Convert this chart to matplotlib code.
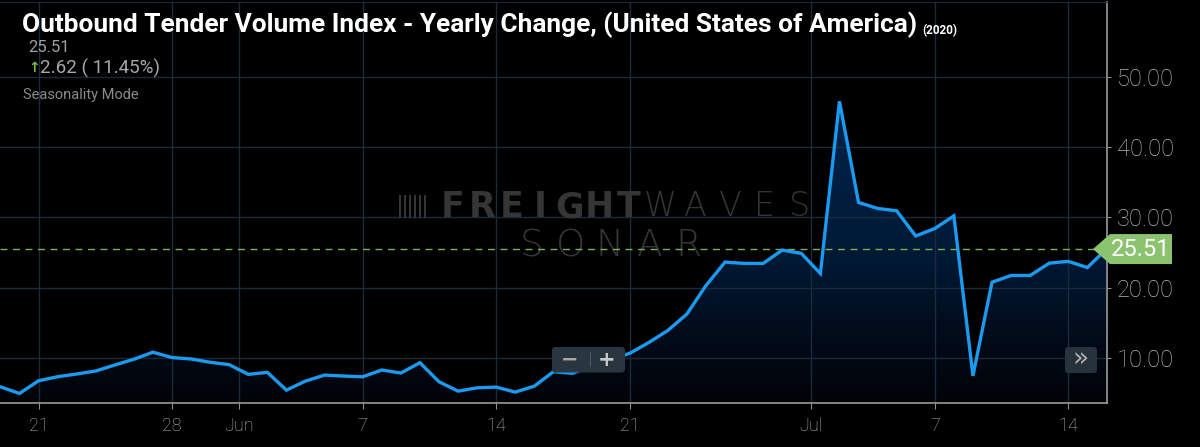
import numpy as np
import matplotlib
matplotlib.use('Agg')
import matplotlib.pyplot as plt
import matplotlib.dates as mdates
from matplotlib.colors import LinearSegmentedColormap
from matplotlib.patches import FancyBboxPatch, Polygon, Rectangle
from matplotlib.transforms import IdentityTransform

# daily values, 2020-05-19 .. 2020-07-16
start_date = '2020-05-19'
end_date = '2020-07-16'
values = [5.94, 5.00, 6.80, 7.37, 7.76, 8.19, 9.04, 9.86, 10.86, 10.10,
          9.90, 9.43, 9.09, 7.71, 8.00, 5.47, 6.76, 7.61, 7.47, 7.37,
          8.33, 7.90, 9.37, 6.66, 5.33, 5.80, 5.90, 5.19, 6.04, 8.09,
          7.86, 8.90, 9.80, 10.70, 12.23, 13.95, 16.28, 20.33, 23.66, 23.47,
          23.47, 25.37, 24.90, 22.04, 46.50, 32.14, 31.28, 30.95, 27.37, 28.43,
          30.23, 7.50, 20.80, 21.76, 21.76, 23.51, 23.76, 22.89, 25.51]

tick_dates = ['2020-05-21', '2020-05-28', '2020-05-31T12', '2020-06-07', '2020-06-14',
              '2020-06-21', '2020-06-30T12', '2020-07-07', '2020-07-14']
tick_labels = ['21', '28', 'Jun', '7', '14', '21', 'Jul', '7', '14']
y_ticks = [10, 20, 30, 40, 50]

title = 'Outbound Tender Volume Index - Yearly Change, (United States of America)'
title_year = '(2020)'
last_value = 25.51
change = 2.62
change_pct = 11.45

W, H = 1200, 447
plt.rcParams['font.family'] = ['Roboto', 'DejaVu Sans']

fig = plt.figure(figsize=(W / 100, H / 100), dpi=100, facecolor='black')
ax = fig.add_axes([0, 1 - 403.3 / H, 1107 / W, (403.3 - 1.7) / H])
ax.set_facecolor('black')

dates = np.arange(np.datetime64(start_date), np.datetime64(end_date) + 1)
x = mdates.date2num(dates)
y = np.array(values)

ymin, ymax = 3.6, 60.65

# gradient area under the line
cmap = LinearSegmentedColormap.from_list(
    'fill', [(0, '#010307'), (0.2, '#020b1a'), (0.46, '#001a36'), (1, '#002550')])
grad = np.linspace(0, 1, 256).reshape(-1, 1)
im = ax.imshow(grad, cmap=cmap, origin='lower', aspect='auto',
               extent=(x[0] - 1, x[-1] + 1, ymin, 50), zorder=0.2)
area = ax.fill_between(x, y, ymin, facecolor='none', edgecolor='none')
im.set_clip_path(area.get_paths()[0], transform=ax.transData)
ax.set_xlim(x[0] - 0.02, x[-1] + 0.03)
ax.set_ylim(ymin, ymax)

ax.plot(x, y, color='#1a9bf0', lw=2.4, zorder=4, solid_joinstyle='miter')
ax.axhline(last_value, color='#7cb052', lw=1, ls=(0, (5, 4)), zorder=3)

# grid and axes
ax.set_xticks(mdates.date2num(np.array(tick_dates, dtype='datetime64[m]')))
ax.set_xticklabels(tick_labels)
ax.set_yticks(y_ticks)
ax.yaxis.tick_right()
ax.yaxis.set_major_formatter('{x:.2f}')
ax.set_axisbelow(True)
ax.grid(True, color='#1c2b3b', lw=1)
ax.tick_params(axis='x', colors='#8f8f8f', labelcolor='#b4b4b4', labelsize=13,
               length=4, pad=6)
ax.tick_params(axis='y', colors='#8f8f8f', labelcolor='#b4b4b4', labelsize=17,
               length=3, pad=4)
for lab in ax.get_xticklabels() + ax.get_yticklabels():
    lab.set_fontweight('light')
for side in ['bottom', 'right']:
    ax.spines[side].set_color('#9a9a9a')
    ax.spines[side].set_linewidth(1.2)
ax.spines['top'].set_color('#1c2b3b')
ax.spines['left'].set_visible(False)

# watermark
wm = '#353535'


def spaced(text, x0, x1, ypx, **kw):
    slot = (x1 - x0) / len(text)
    for i, ch in enumerate(text):
        ax.text((x0 + slot * (i + 0.5)) / W, 1 - ypx / H, ch, transform=fig.transFigure,
                ha='center', va='center', color=wm, zorder=2, **kw)


spaced('FREIGHT', 438, 643, 207, fontsize=25, fontweight='bold', family='DejaVu Sans')
spaced('WAVES', 643, 817, 207, fontsize=24, fontweight='light', family='DejaVu Sans')
spaced('SONAR', 512, 708, 246, fontsize=27, fontweight='light', family='DejaVu Sans')
for i in range(6):
    bx = 399 + i * 5
    ax.add_patch(Rectangle((bx / W, 1 - 218 / H), 2.2 / W, 23 / H, transform=fig.transFigure,
                           facecolor=wm, edgecolor='none', zorder=2))

# header text
fig.text(22 / W, 1 - 32 / H, title, fontsize=18.9, fontweight='bold', color='white',
         family=['Liberation Sans Narrow', 'Roboto'], va='baseline')
fig.text(922 / W, 1 - 34 / H, title_year, fontsize=8.5, fontweight='bold', color='white',
         family=['Liberation Sans Narrow', 'Roboto'], va='baseline')
fig.text(28 / W, 1 - 47 / H, f'{last_value:.2f}', fontsize=12, color='#a0a0a0', va='center')
fig.text(28 / W, 1 - 68 / H, '\u2191', fontsize=10, fontweight='bold', color='#6fbf4a',
         va='center', family='DejaVu Sans')
fig.text(40 / W, 1 - 68 / H, f'{change:.2f} ( {change_pct:.2f}%)', fontsize=13.5,
         color='#a8a8a8', va='center')
fig.text(23 / W, 1 - 95 / H, 'Seasonality Mode', fontsize=10.5, color='#8a8a8a', va='center')

# zoom buttons
fig.add_artist(FancyBboxPatch((552, H - 372.5), 73, 25.5, boxstyle='round,pad=0,rounding_size=3',
                              transform=IdentityTransform(), facecolor='#29363f',
                              edgecolor='none', zorder=5))
fig.add_artist(Rectangle((590, H - 367), 1, 15, transform=IdentityTransform(),
                         facecolor='#4a5660', edgecolor='none', zorder=6))
fig.text(570 / W, 1 - 360 / H, '\u2212', fontsize=15, fontweight='bold', color='#a8a8a8',
         ha='center', va='center', family='DejaVu Sans', zorder=7)
fig.text(607 / W, 1 - 360 / H, '+', fontsize=15, fontweight='bold', color='#c8c8c8',
         ha='center', va='center', family='DejaVu Sans', zorder=7)
fig.add_artist(FancyBboxPatch((1065, H - 373), 32, 26, boxstyle='round,pad=0,rounding_size=3',
                              transform=IdentityTransform(), facecolor='#26323c',
                              edgecolor='none', zorder=5))
fig.text(1081 / W, 1 - 360 / H, '\u00bb', fontsize=19, color='#b0b0b0',
         ha='center', va='center', family='DejaVu Sans', zorder=7)

# last value tag
py = ax.transData.transform((x[-1], last_value))[1]
tag = Polygon([(1093, py), (1110, py + 15), (1172, py + 15), (1172, py - 15), (1110, py - 15)],
              closed=True, transform=IdentityTransform(), facecolor='#8cc36f',
              edgecolor='none', zorder=5)
fig.add_artist(tag)
fig.text(1141 / W, py / H, f'{last_value:.2f}', fontsize=17, color='white',
         ha='center', va='center', zorder=7)

fig.savefig('out.png', dpi=100, facecolor='black')
